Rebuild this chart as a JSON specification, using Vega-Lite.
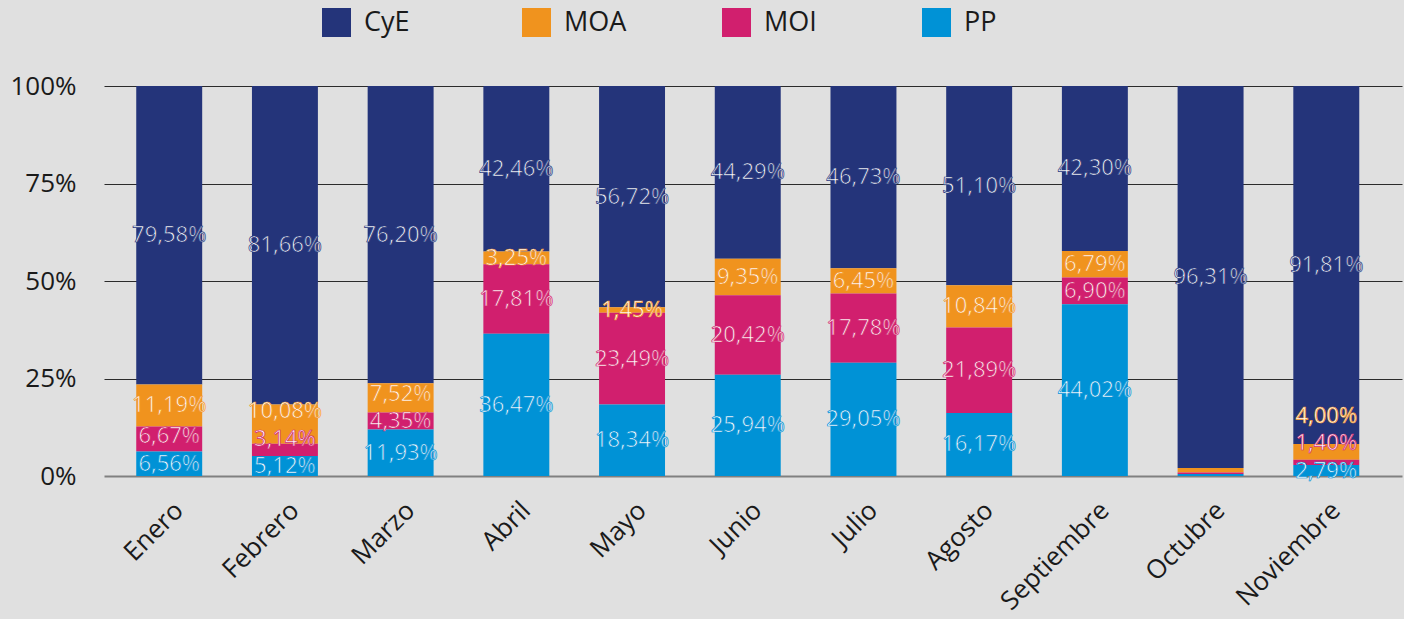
{
  "$schema": "https://vega.github.io/schema/vega-lite/v6.json",
  "width": 1298,
  "height": 390,
  "autosize": {"type": "none"},
  "padding": {"left": 104, "top": 86, "right": 2, "bottom": 143},
  "background": "#e0e0e0",
  "config": {
    "view": {"stroke": null},
    "font": "Open Sans",
    "axisX": {"labelAngle": -45, "labelAlign": "right", "labelBaseline": "middle", "labelFontSize": 26, "labelFont": "Open Sans", "labelColor": "#1a1a1a", "labelPadding": 30, "labelOffset": 10, "ticks": false, "domain": false, "grid": false},
    "axisY": {"labelFontSize": 26, "labelFont": "Open Sans", "labelColor": "#1a1a1a", "labelPadding": 28, "ticks": false, "domain": false}
  },
  "data": {"values": [
    {"month": "Enero", "series": "CyE", "value": 79.58},
    {"month": "Enero", "series": "MOA", "value": 11.19},
    {"month": "Enero", "series": "MOI", "value": 6.67},
    {"month": "Enero", "series": "PP", "value": 6.56},
    {"month": "Febrero", "series": "CyE", "value": 81.66},
    {"month": "Febrero", "series": "MOA", "value": 10.08},
    {"month": "Febrero", "series": "MOI", "value": 3.14},
    {"month": "Febrero", "series": "PP", "value": 5.12},
    {"month": "Marzo", "series": "CyE", "value": 76.20},
    {"month": "Marzo", "series": "MOA", "value": 7.52},
    {"month": "Marzo", "series": "MOI", "value": 4.35},
    {"month": "Marzo", "series": "PP", "value": 11.93},
    {"month": "Abril", "series": "CyE", "value": 42.46},
    {"month": "Abril", "series": "MOA", "value": 3.25},
    {"month": "Abril", "series": "MOI", "value": 17.81},
    {"month": "Abril", "series": "PP", "value": 36.47},
    {"month": "Mayo", "series": "CyE", "value": 56.72},
    {"month": "Mayo", "series": "MOA", "value": 1.45},
    {"month": "Mayo", "series": "MOI", "value": 23.49},
    {"month": "Mayo", "series": "PP", "value": 18.34},
    {"month": "Junio", "series": "CyE", "value": 44.29},
    {"month": "Junio", "series": "MOA", "value": 9.35},
    {"month": "Junio", "series": "MOI", "value": 20.42},
    {"month": "Junio", "series": "PP", "value": 25.94},
    {"month": "Julio", "series": "CyE", "value": 46.73},
    {"month": "Julio", "series": "MOA", "value": 6.45},
    {"month": "Julio", "series": "MOI", "value": 17.78},
    {"month": "Julio", "series": "PP", "value": 29.05},
    {"month": "Agosto", "series": "CyE", "value": 51.10},
    {"month": "Agosto", "series": "MOA", "value": 10.84},
    {"month": "Agosto", "series": "MOI", "value": 21.89},
    {"month": "Agosto", "series": "PP", "value": 16.17},
    {"month": "Septiembre", "series": "CyE", "value": 42.30},
    {"month": "Septiembre", "series": "MOA", "value": 6.79},
    {"month": "Septiembre", "series": "MOI", "value": 6.90},
    {"month": "Septiembre", "series": "PP", "value": 44.02},
    {"month": "Octubre", "series": "CyE", "value": 96.31},
    {"month": "Octubre", "series": "MOA", "value": 1.1},
    {"month": "Octubre", "series": "MOI", "value": 0.4},
    {"month": "Octubre", "series": "PP", "value": 0.5},
    {"month": "Noviembre", "series": "CyE", "value": 91.81},
    {"month": "Noviembre", "series": "MOA", "value": 4.00},
    {"month": "Noviembre", "series": "MOI", "value": 1.40},
    {"month": "Noviembre", "series": "PP", "value": 2.79}
  ]},
  "transform": [
    {"stack": "value", "groupby": ["month"], "sort": [{"field": "series", "order": "descending"}], "as": ["y0", "y1"], "offset": "normalize"}
  ],
  "encoding": {
    "x": {
      "field": "month", "type": "nominal",
      "sort": ["Enero", "Febrero", "Marzo", "Abril", "Mayo", "Junio", "Julio", "Agosto", "Septiembre", "Octubre", "Noviembre"],
      "scale": {"paddingInner": 0.43, "paddingOuter": 0.324, "align": 0.43},
      "axis": {"title": null}
    }
  },
  "layer": [
    {
      "mark": {"type": "bar"},
      "encoding": {
        "y": {
          "field": "y0", "type": "quantitative",
          "scale": {"domain": [0, 1], "nice": false},
          "axis": {
            "title": null, "format": ".0%", "values": [0, 0.25, 0.5, 0.75, 1],
            "gridColor": {"condition": {"test": "datum.value === 0", "value": "#808080"}, "value": "#2b2b2b"},
            "gridWidth": {"condition": {"test": "datum.value === 0", "value": 2}, "value": 1.2}
          }
        },
        "y2": {"field": "y1"},
        "color": {
          "field": "series", "type": "nominal",
          "scale": {"domain": ["CyE", "MOA", "MOI", "PP"], "range": ["#24347a", "#f0931e", "#d11f6e", "#0092d6"]},
          "legend": {
            "title": null, "orient": "none", "legendX": 218, "legendY": -78,
            "direction": "horizontal", "columns": 4, "gridAlign": "all", "columnPadding": 95,
            "symbolType": "square", "symbolSize": 841, "symbolStrokeWidth": 0, "symbolOpacity": 1,
            "labelFontSize": 27, "labelFont": "Open Sans", "labelColor": "#1a1a1a", "labelOffset": 13, "padding": 0
          }
        }
      }
    },
    {
      "transform": [
        {"calculate": "(datum.y0 + datum.y1) / 2", "as": "mid"},
        {"window": [{"op": "row_number", "as": "rn"}], "groupby": ["month"], "sort": [{"field": "series", "order": "descending"}]},
        {"calculate": "datum.mid - (datum.rn - 1) * 0.07", "as": "t"},
        {"window": [{"op": "max", "field": "t", "as": "tmax"}], "groupby": ["month"], "sort": [{"field": "series", "order": "descending"}], "frame": [null, 0]},
        {"calculate": "datum.tmax + (datum.rn - 1) * 0.07", "as": "ly"},
        {"filter": "datum.value >= 1.4"},
        {"calculate": "replace(format(datum.value, '.2f'), '.', ',') + '%'", "as": "label"}
      ],
      "mark": {"type": "text", "fontSize": 22, "font": "Open Sans", "fill": "#ffffff", "fillOpacity": 1, "strokeWidth": 0.7, "align": "center", "baseline": "middle"},
      "encoding": {
        "y": {
          "field": "ly", "type": "quantitative",
          "scale": {"domain": [0, 1], "nice": false},
          "axis": {
            "title": null, "format": ".0%", "values": [0, 0.25, 0.5, 0.75, 1],
            "gridColor": {"condition": {"test": "datum.value === 0", "value": "#808080"}, "value": "#2b2b2b"},
            "gridWidth": {"condition": {"test": "datum.value === 0", "value": 2}, "value": 1.2}
          }
        },
        "text": {"field": "label"},
        "stroke": {
          "field": "series", "type": "nominal",
          "scale": {"domain": ["CyE", "MOA", "MOI", "PP"], "range": ["#24347a", "#f0931e", "#d11f6e", "#0092d6"]},
          "legend": null
        }
      }
    }
  ]
}
